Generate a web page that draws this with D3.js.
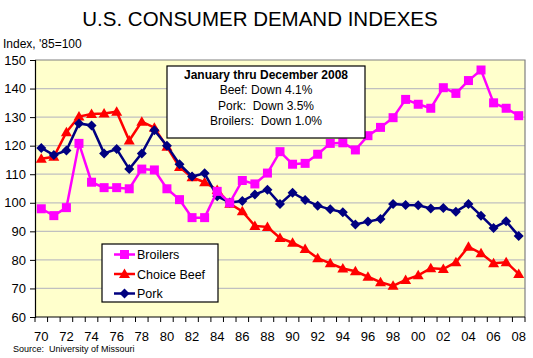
<!DOCTYPE html>
<html><head><meta charset="utf-8">
<script src="https://cdn.jsdelivr.net/npm/d3@7/dist/d3.min.js"></script>
<style>body{margin:0;background:#fff;} svg{display:block;font-family:"Liberation Sans",Arial,sans-serif;} text{white-space:pre;}</style>
</head><body>
<svg id="c" width="533" height="358"></svg>
<script>
const years = d3.range(1970, 2009);
const xTickLabels = ["70","72","74","76","78","80","82","84","86","88","90","92","94","96","98","00","02","04","06","08"];
const yTicks = [60,70,80,90,100,110,120,130,140,150];
const broilers = [97.9,95.5,98.3,120.8,107.2,105.3,105.3,104.9,111.8,111.5,104.9,101.1,94.8,94.8,104.0,100.0,107.8,106.6,110.4,117.9,113.5,113.8,117.0,120.8,121.0,118.5,123.5,126.4,129.8,136.2,134.5,133.1,140.3,138.3,142.8,146.5,135.0,133.1,130.5];
const beef = [115.4,116.1,124.7,130.2,131.1,131.3,131.9,121.8,128.4,126.3,119.6,112.5,108.9,107.2,104.5,99.7,97.0,91.9,91.5,87.7,86.0,83.8,80.6,78.8,77.0,76.0,74.1,72.2,70.9,73.0,74.6,77.1,76.8,79.2,84.6,82.3,78.8,79.2,75.1];
const pork = [119.2,116.7,118.3,127.8,127.1,117.3,118.8,111.8,117.3,125.4,120.0,113.5,109.2,110.3,102.3,100.1,100.6,102.9,104.6,99.6,103.5,101.0,99.0,97.7,96.7,92.4,93.4,94.3,99.6,99.2,99.1,98.0,98.2,96.9,99.6,95.5,91.2,93.5,88.4];
const seriesNames = ["Broilers","Choice Beef","Pork"];
const seriesColors = ["#FF00FF","#FF0000","#000080"];
const noteLines = ["January thru December 2008","Beef: Down 4.1%","Pork:  Down 3.5%","Broilers:  Down 1.0%"];

const svg = d3.select("#c");
const L=35, R=525, T=60, B=317;
const x = d3.scaleBand().domain(years).range([L,R]);
const y = d3.scaleLinear().domain([60,150]).range([B,T]);
const cx = d => x(d) + x.bandwidth()/2;

svg.append("text").attr("x",260).attr("y",26).attr("text-anchor","middle")
  .attr("font-size",20.5).attr("fill","#000").text("U.S. CONSUMER DEMAND INDEXES");
svg.append("text").attr("x",3).attr("y",48).attr("font-size",12).attr("fill","#000").text("Index, '85=100");

svg.append("rect").attr("x",L).attr("y",T).attr("width",R-L).attr("height",B-T).attr("fill","#FFFFCC");
svg.append("g").selectAll("line").data(yTicks.filter(v=>v>60 && v<150)).join("line")
  .attr("x1",L).attr("x2",R).attr("y1",d=>y(d)).attr("y2",d=>y(d)).attr("stroke","#C0C0C0").attr("stroke-width",1.2);
svg.append("path").attr("d",`M${L},${T}H${R}V${B}`).attr("fill","none").attr("stroke","#808080").attr("stroke-width",1.2);

// Y axis
const ya = svg.append("g").attr("transform",`translate(${L},0)`)
  .call(d3.axisLeft(y).tickValues(yTicks).tickSize(5).tickPadding(4));
ya.select(".domain").attr("stroke","#000").attr("stroke-width",1.2);
ya.selectAll("line").attr("stroke","#000");
ya.selectAll("text").attr("font-size",13).attr("font-family","Liberation Sans, Arial").attr("fill","#000");

// X axis
const xa = svg.append("g").attr("transform",`translate(0,${B})`)
  .call(d3.axisBottom(x).tickValues(years.filter((d,i)=>i%2===0)).tickFormat(d=>xTickLabels[(d-1970)/2]).tickSize(0).tickPadding(15));
xa.select(".domain").remove();
xa.selectAll("text").attr("font-size",13).attr("font-family","Liberation Sans, Arial").attr("fill","#000");
svg.append("line").attr("x1",L).attr("x2",R).attr("y1",B).attr("y2",B).attr("stroke","#000").attr("stroke-width",1.2);
svg.append("g").selectAll("line").data(d3.range(years.length+1)).join("line")
  .attr("x1",i=>L+i*x.step()).attr("x2",i=>L+i*x.step()).attr("y1",B).attr("y2",B+5).attr("stroke","#000");

const series = [broilers, beef, pork];
const line = d3.line().x((d,i)=>cx(years[i])).y(d=>y(d));
function marker(g, type, color, px, py){
  if(type===0) g.append("rect").attr("x",px-4.5).attr("y",py-4.5).attr("width",9).attr("height",9).attr("fill",color);
  else if(type===1) g.append("path").attr("d",`M${px},${py-5.5}L${px+5.5},${py+4}L${px-5.5},${py+4}Z`).attr("fill",color);
  else g.append("path").attr("d",`M${px},${py-5}L${px+5},${py}L${px},${py+5}L${px-5},${py}Z`).attr("fill",color);
}
[1,2,0].forEach(k=>{
  const g = svg.append("g");
  g.append("path").datum(series[k]).attr("d",line).attr("fill","none").attr("stroke",seriesColors[k]).attr("stroke-width",2.5);
  series[k].forEach((v,i)=>marker(g,k,seriesColors[k],cx(years[i]),y(v)));
});

// note box
const nb = svg.append("g");
nb.append("rect").attr("x",167).attr("y",66).attr("width",198).attr("height",72).attr("fill","#fff").attr("stroke","#000").attr("stroke-width",1.2);
noteLines.forEach((t,i)=>nb.append("text").attr("x",266).attr("y",79+i*15.3).attr("text-anchor","middle")
  .attr("xml:space","preserve").attr("font-size",12).attr("font-weight",i===0?"bold":"normal").attr("fill","#000").text(t));

// legend
const lg = svg.append("g");
lg.append("rect").attr("x",102).attr("y",244).attr("width",116).attr("height",58).attr("fill","#fff").attr("stroke","#000").attr("stroke-width",1.2);
seriesNames.forEach((n,k)=>{
  const yy = 254.5 + k*19.5;
  lg.append("line").attr("x1",114).attr("x2",135).attr("y1",yy).attr("y2",yy).attr("stroke",seriesColors[k]).attr("stroke-width",2.5);
  marker(lg,k,seriesColors[k],124.5,yy);
  lg.append("text").attr("x",137).attr("y",yy+4.5).attr("font-size",12.5).attr("fill","#000").text(n);
});

svg.append("text").attr("x",13).attr("y",352).attr("xml:space","preserve").attr("font-size",9).attr("fill","#000").text("Source:  University of Missouri");
</script>
</body></html>
